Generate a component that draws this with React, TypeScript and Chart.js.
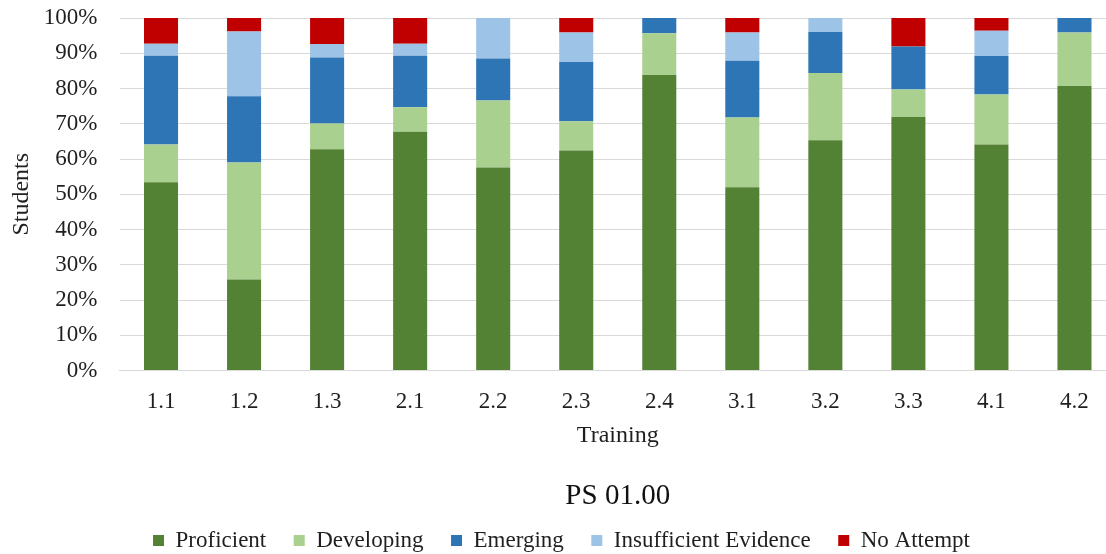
import React, { useEffect, useRef } from "react";
import { Chart, registerables } from "chart.js";

Chart.register(...registerables);

const categories = ["1.1", "1.2", "1.3", "2.1", "2.2", "2.3", "2.4", "3.1", "3.2", "3.3", "4.1", "4.2"];
const proficient = [53.4, 25.8, 62.8, 67.7, 57.6, 62.4, 83.8, 52.0, 65.3, 71.9, 64.1, 80.7];
const developing = [10.7, 33.2, 7.3, 7.0, 19.0, 8.3, 11.9, 19.8, 19.1, 7.8, 14.2, 15.2];
const emerging = [25.2, 18.8, 18.7, 14.6, 11.9, 16.8, 4.3, 16.1, 11.6, 12.2, 10.9, 4.1];
const insufficient = [3.4, 18.4, 3.8, 3.4, 11.5, 8.4, 0, 8.0, 4.0, 0, 7.2, 0];
const noAttempt = [7.3, 3.8, 7.4, 7.3, 0, 4.1, 0, 4.1, 0, 8.1, 3.6, 0];
const yTicks = [0, 10, 20, 30, 40, 50, 60, 70, 80, 90, 100];

const FONT = "'Liberation Serif', 'Times New Roman', serif";
const TEXT = "#1f1f1f";

export default function App() {
  const ref = useRef<HTMLCanvasElement | null>(null);

  useEffect(() => {
    if (!ref.current) return;
    const mk = (label: string, data: number[], color: string) => ({
      label,
      data,
      backgroundColor: color,
      borderWidth: 0,
      barPercentage: 0.41,
      categoryPercentage: 1,
    });
    const chart = new Chart(ref.current, {
      type: "bar",
      data: {
        labels: categories,
        datasets: [
          mk("Proficient", proficient, "#548235"),
          mk("Developing", developing, "#A9D08E"),
          mk("Emerging", emerging, "#2E75B6"),
          mk("Insufficient Evidence", insufficient, "#9DC3E6"),
          mk("No Attempt", noAttempt, "#C00000"),
        ],
      },
      options: {
        responsive: false,
        animation: false,
        layout: { padding: { top: 18, bottom: 0, left: 7, right: 1 } },
        scales: {
          x: {
            stacked: true,
            afterFit: (axis: any) => {
              axis.height = 79.4;
            },
            grid: { display: false, drawTicks: false },
            border: { display: true, color: "#d9d9d9", width: 1 },
            ticks: { padding: 18, color: TEXT, font: { family: FONT, size: 23 } },
            title: {
              display: true,
              text: "Training",
              color: TEXT,
              font: { family: FONT, size: 24 },
              padding: { top: 0, bottom: 0 },
            },
          },
          y: {
            stacked: true,
            min: 0,
            max: 100,
            afterBuildTicks: (axis: any) => {
              axis.ticks = yTicks.map((v) => ({ value: v }));
            },
            afterFit: (axis: any) => {
              axis.width = 112.5;
              axis.paddingTop = 0;
              axis.paddingBottom = 0;
            },
            grid: { color: "#d9d9d9", lineWidth: 1, drawTicks: false },
            border: { display: false },
            ticks: {
              padding: 22,
              color: TEXT,
              font: { family: FONT, size: 23 },
              callback: (v: any) => v + "%",
            },
            title: {
              display: true,
              text: "Students",
              color: TEXT,
              font: { family: FONT, size: 24 },
              padding: { top: 0, bottom: 0 },
            },
          },
        },
        plugins: {
          title: {
            display: true,
            text: "PS 01.00",
            position: "bottom",
            fullSize: false,
            weight: 500,
            color: "#111",
            font: { family: FONT, size: 29, weight: "normal" },
            padding: { top: 29.2, bottom: -12.4 },
          },
          legend: {
            position: "bottom",
            weight: 1000,
            labels: {
              boxWidth: 11,
              boxHeight: 11,
              padding: 27.5,
              color: TEXT,
              font: { family: FONT, size: 23 },
            },
          },
          tooltip: { enabled: false },
        },
      },
    } as any);
    return () => chart.destroy();
  }, []);

  return (
    <div style={{ position: "fixed", left: 0, top: 0, width: 1106, height: 554, overflow: "hidden", background: "#fff" }}>
      <canvas ref={ref} width={1117} height={562} style={{ display: "block" }} />
    </div>
  );
}
